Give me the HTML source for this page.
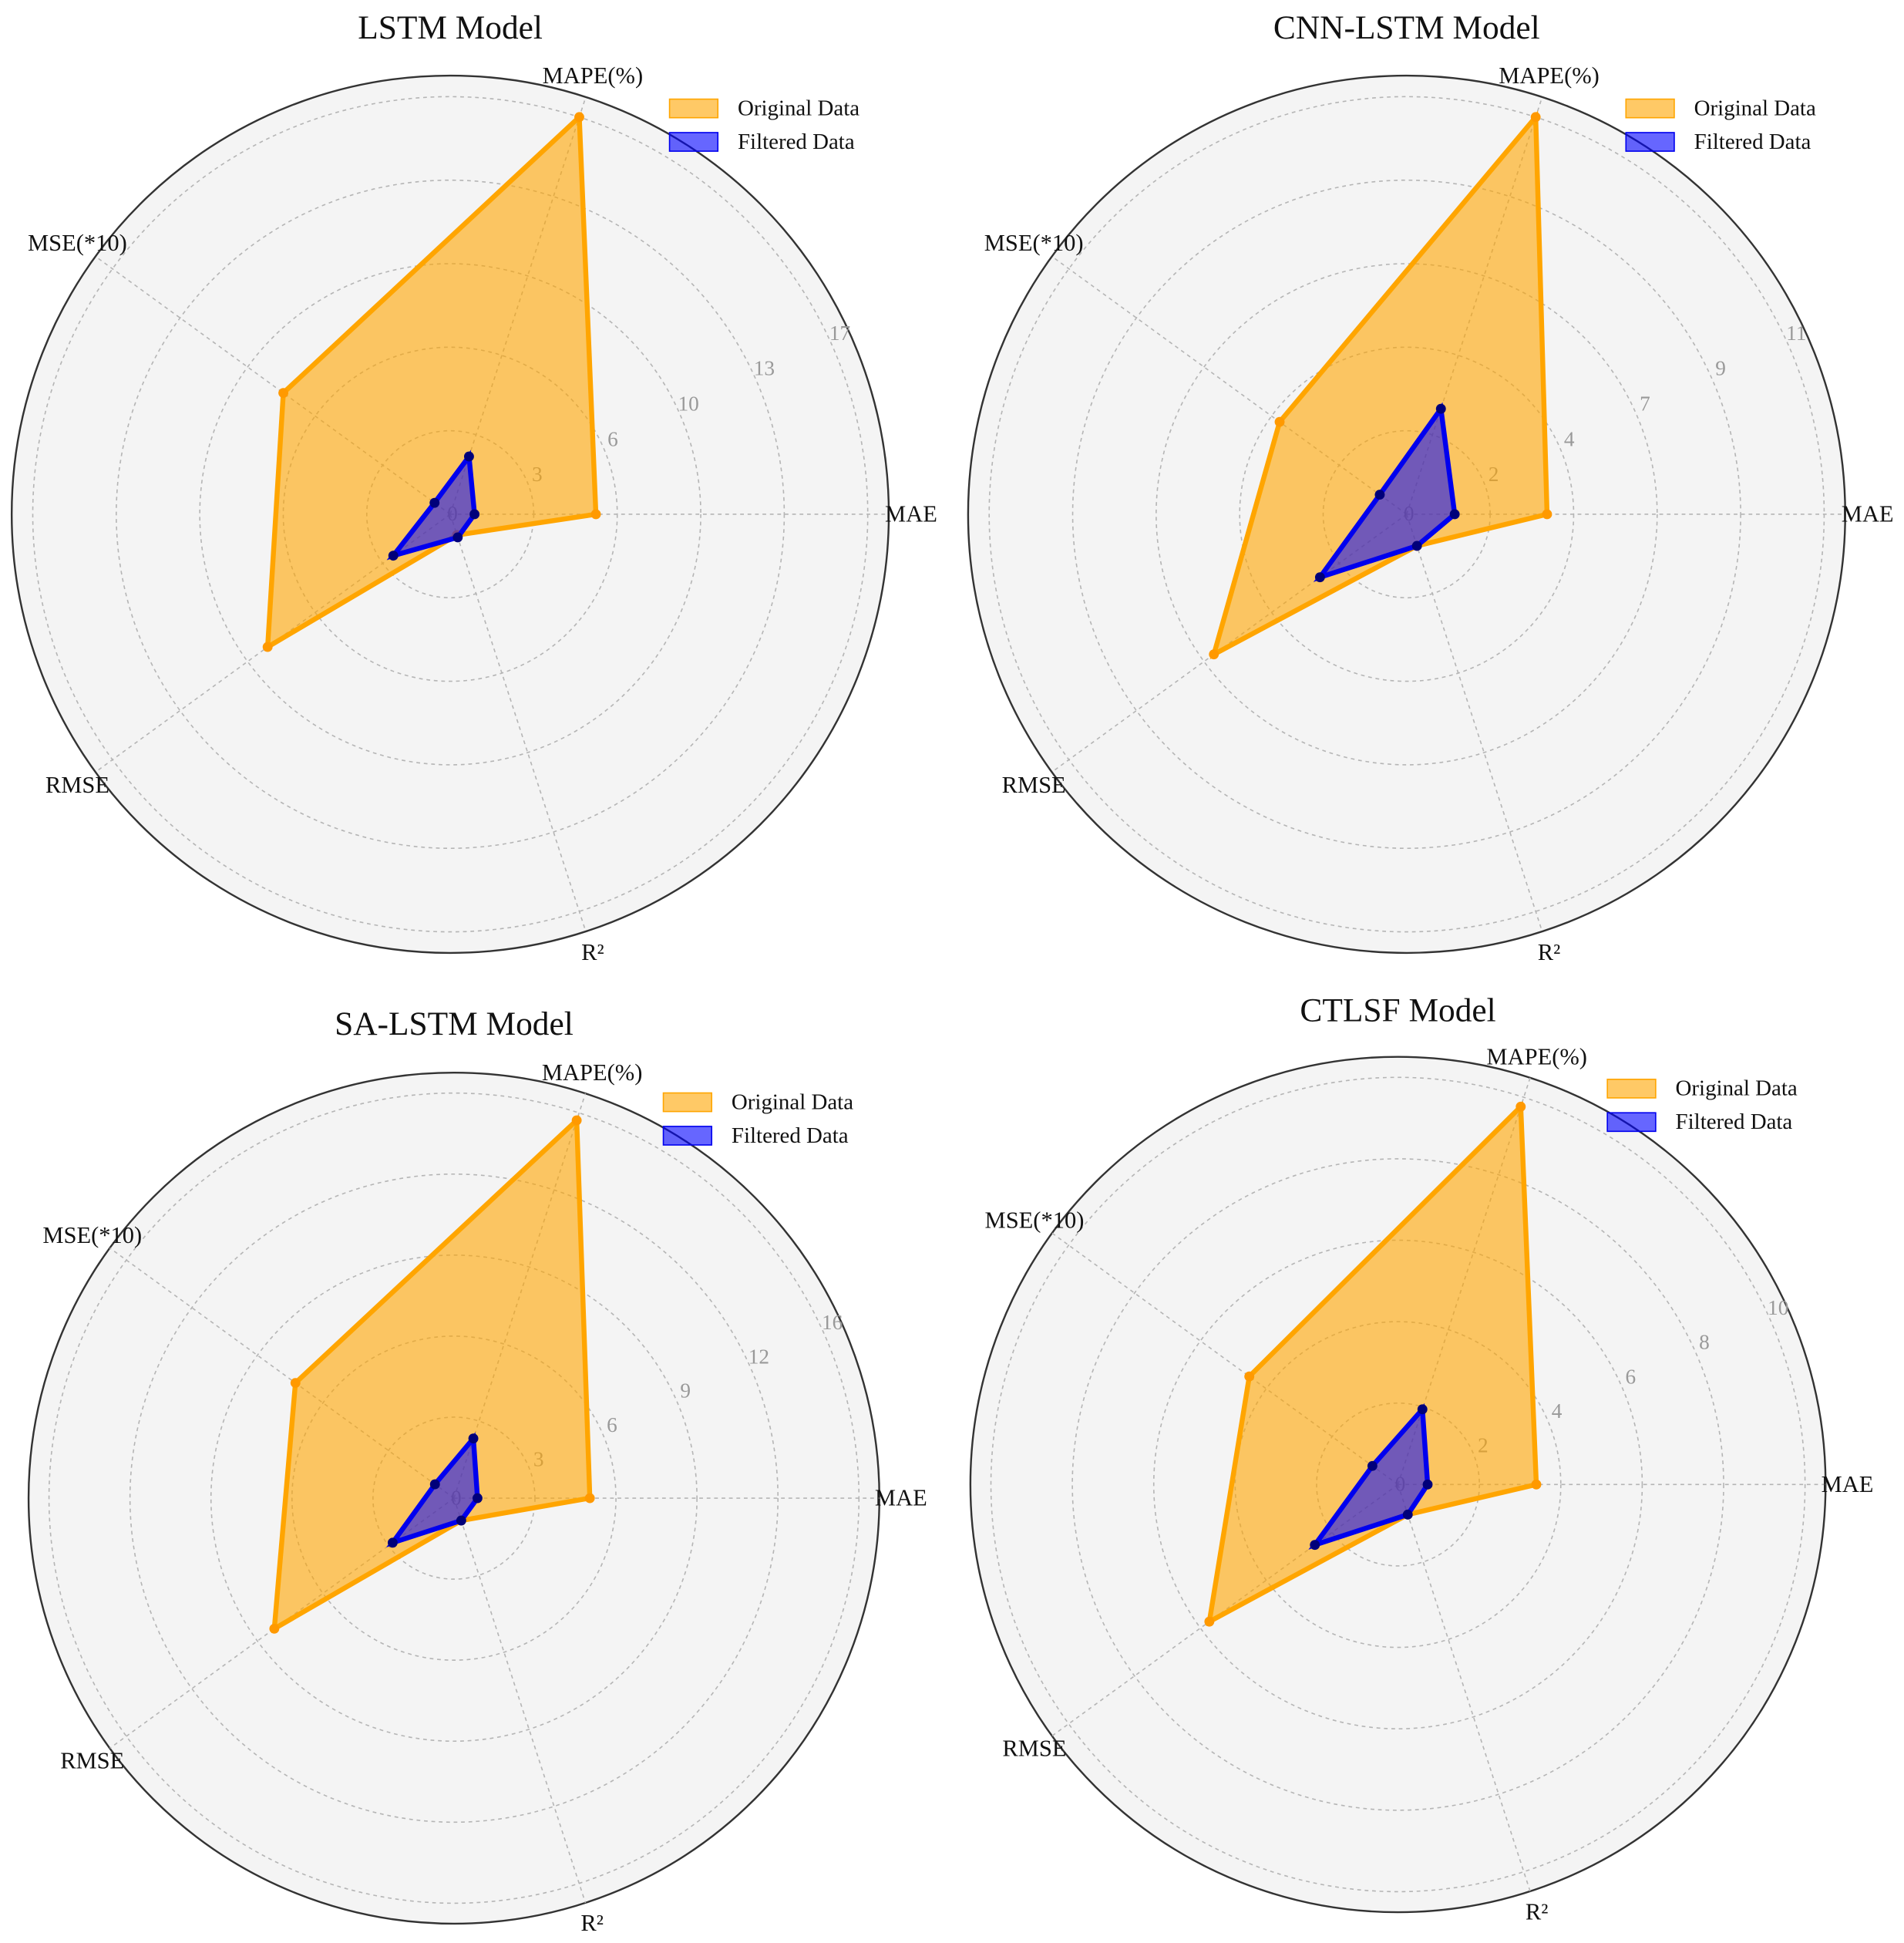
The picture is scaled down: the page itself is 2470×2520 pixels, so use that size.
<!DOCTYPE html>
<html><head><meta charset="utf-8"><style>
html,body{margin:0;padding:0;background:#fff;}
svg{display:block;font-family:"Liberation Serif",serif;}
</style></head><body>
<svg id="chart" width="2470" height="2520" viewBox="0 0 1536 1568" xmlns="http://www.w3.org/2000/svg"></svg>
<script>
const categories = ["MAE","MAPE(%)","MSE(*10)","RMSE","R²"];
const titles = ["LSTM Model","CNN-LSTM Model","SA-LSTM Model","CTLSF Model"];
const lstmOriginal = [6.0, 17.2, 8.5, 9.3, 0.9];
const lstmFiltered = [1.0, 2.5, 0.8, 2.9, 1.0];
const cnnOriginal = [3.8, 11.3, 4.25, 6.45, 0.9];
const cnnFiltered = [1.3, 3.0, 0.9, 2.9, 0.9];
const saOriginal = [5.2, 15.2, 7.5, 8.5, 0.9];
const saFiltered = [0.9, 2.4, 0.9, 2.9, 0.9];
const ctlsfOriginal = [3.5, 10.05, 4.65, 5.9, 0.8];
const ctlsfFiltered = [0.75, 2.0, 0.8, 2.6, 0.8];
const lstmTicks = ["0","3","6","10","13","17"];
const cnnTicks = ["0","2","4","7","9","11"];
const saTicks = ["0","3","6","9","12","16"];
const ctlsfTicks = ["0","2","4","6","8","10"];
const maxValues = [17.2, 11.3, 15.5, 10.3];

const panels = [
  {title:titles[0], orig:lstmOriginal, filt:lstmFiltered, ticks:lstmTicks, max:maxValues[0], cx:363, cy:415, s:1, ty:22, lx:540, ly:80},
  {title:titles[1], orig:cnnOriginal, filt:cnnFiltered, ticks:cnnTicks, max:maxValues[1], cx:1135, cy:415, s:1, ty:22, lx:1312, ly:80},
  {title:titles[2], orig:saOriginal, filt:saFiltered, ticks:saTicks, max:maxValues[2], cx:366, cy:1209, s:0.97, ty:826, lx:535, ly:882},
  {title:titles[3], orig:ctlsfOriginal, filt:ctlsfFiltered, ticks:ctlsfTicks, max:maxValues[3], cx:1128, cy:1198, s:0.975, ty:815, lx:1297, ly:871}
];
const NS = "http://www.w3.org/2000/svg";
const svg = document.getElementById('chart');
function mk(tag, attrs, parent, text){
  const e = document.createElementNS(NS, tag);
  for (const k in attrs) e.setAttribute(k, attrs[k]);
  if (text !== undefined) e.textContent = text;
  (parent||svg).appendChild(e);
  return e;
}
function ang(i){ return i * 2 * Math.PI / categories.length; }
panels.forEach((p, pi) => {
  const RING = 337*p.s, OUTER = 354*p.s, LABEL_R = 372*p.s;
  const g = mk('g', {});
  
  
  const rScale = v => v / p.max * RING;
  const pt = (i, r) => [p.cx + r*Math.cos(ang(i)), p.cy - r*Math.sin(ang(i))];
  const bg = mk('circle', {cx:p.cx, cy:p.cy, r:OUTER, fill:'#f4f4f4', stroke:'#333', 'stroke-width':1.5}, g);
  
  
  for (let k=1; k<p.ticks.length; k++){
    const ring = mk('circle', {cx:p.cx, cy:p.cy, r:RING*k/(p.ticks.length-1), fill:'none', stroke:'#b5b5b5', 'stroke-width':1, 'stroke-dasharray':'3,3'}, g);
    
    
  }
  categories.forEach((c, i) => {
    const [x, y] = pt(i, OUTER);
    const sp = mk('line', {x1:p.cx, y1:p.cy, x2:x, y2:y, stroke:'#b5b5b5', 'stroke-width':1, 'stroke-dasharray':'3,3'}, g);
    
    
    const [lx, ly] = pt(i, LABEL_R);
    const t = mk('text', {x:lx, y:ly+6, 'text-anchor':'middle', 'font-size':19, fill:'#111'}, g, c);
    
    
  });
  p.ticks.forEach((tk, k) => {
    const r = RING*k/(p.ticks.length-1) + (k===0?2:10);
    const a = 25*Math.PI/180;
    const t = mk('text', {x:p.cx + r*Math.cos(a), y:p.cy - r*Math.sin(a)+6, 'text-anchor':'middle', 'font-size':17, fill:'#999'}, g, tk);
    
    
  });
  const series = [
    {vals:p.orig, fill:'rgba(255,165,0,0.6)', stroke:'#ffa500', dot:'#ff9900', name:'original-data'},
    {vals:p.filt, fill:'rgba(0,0,255,0.55)', stroke:'#0000ee', dot:'#00007a', name:'filtered-data'}
  ];
  series.forEach(s => {
    const pts = s.vals.map((v, i) => pt(i, rScale(v)));
    const poly = mk('polygon', {points:pts.map(q=>q.join(',')).join(' '), fill:s.fill, stroke:s.stroke, 'stroke-width':4, 'stroke-linejoin':'miter'}, g);
    
    
    pts.forEach(q => {
      const d = mk('circle', {cx:q[0], cy:q[1], r:4, fill:s.dot}, g);
      
      
    });
  });
  const tt = mk('text', {x:p.cx, y:p.ty+9, 'text-anchor':'middle', 'font-size':27, fill:'#111'}, g, p.title);
  
  
  const lg = mk('g', {}, g);
  
  
  const p1 = mk('rect', {x:p.lx, y:p.ly, width:39, height:15, fill:'rgba(255,165,0,0.6)', stroke:'#ffa500', 'stroke-width':1}, lg);
  
  
  const t1 = mk('text', {x:p.lx+55, y:p.ly+13, 'font-size':18, fill:'#111'}, lg, 'Original Data');
  
  
  const p2 = mk('rect', {x:p.lx, y:p.ly+27, width:39, height:15, fill:'rgba(0,0,255,0.6)', stroke:'#0000ee', 'stroke-width':1}, lg);
  
  
  const t2 = mk('text', {x:p.lx+55, y:p.ly+40, 'font-size':18, fill:'#111'}, lg, 'Filtered Data');
  
  
});
</script>
</body></html>
